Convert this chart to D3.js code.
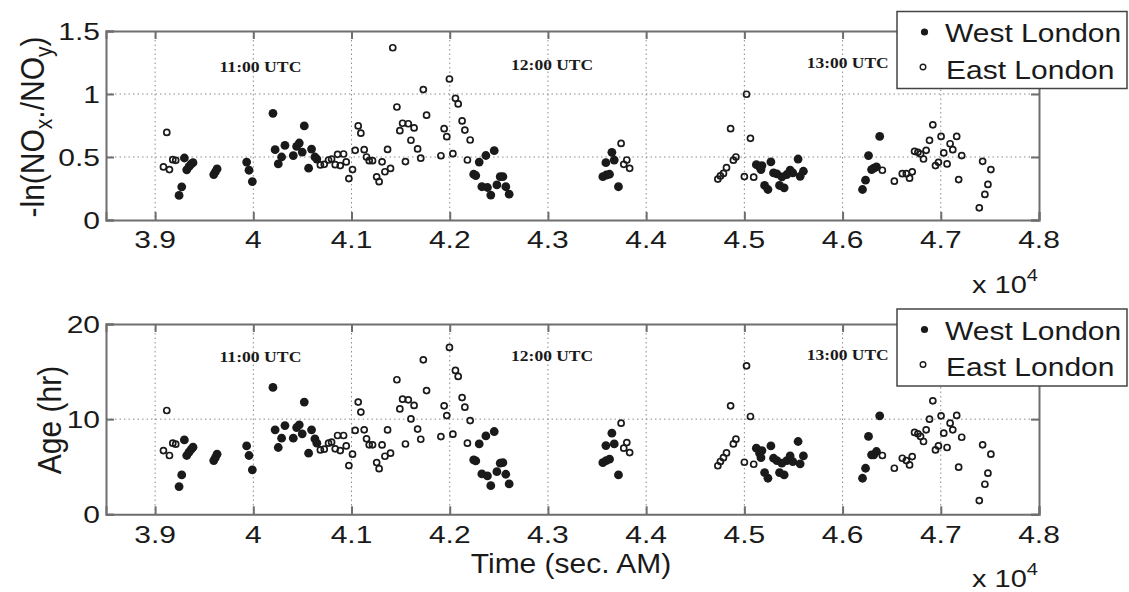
<!DOCTYPE html>
<html><head><meta charset="utf-8">
<script src="https://cdn.jsdelivr.net/npm/d3@7"></script>
<style>html,body{margin:0;padding:0;background:#fff;}</style>
</head><body>
<script>
// ---- data (time in seconds) ----
const westTime = [39244,39271,39298,39322,39345,39366,39386,39597,39614,39631,39932,39956,39990,40200,40222,40254,40288,40322,40407,40441,40468,40498,40519,40563,40593,40627,40647,
  42244,42265,42300,42368,42453,42327,42384,42418,42480,42514,42541,42571,42605,
  43559,43593,43627,43590,43651,43675,43718,
  45122,45155,45179,45169,45270,45206,45240,45297,45331,45358,45405,45382,45432,45466,45493,45547,45568,45601,
  46203,46234,46264,46295,46318,46345,46378];
const westRatio = [0.195,0.263,0.492,0.398,0.423,0.443,0.455,0.361,0.382,0.405,0.46,0.395,0.305,0.847,0.558,0.445,0.5,0.592,0.511,0.584,0.611,0.539,0.747,0.411,0.563,0.5,0.484,
  0.363,0.353,0.46,0.512,0.55,0.264,0.258,0.198,0.278,0.344,0.344,0.264,0.205,
  0.344,0.357,0.363,0.455,0.537,0.476,0.264,
  0.439,0.421,0.432,0.40,0.461,0.274,0.242,0.374,0.366,0.274,0.255,0.342,0.361,0.395,0.374,0.484,0.347,0.387,
  0.242,0.316,0.511,0.40,0.411,0.421,0.663];
const westAge = [2.91,4.14,7.82,6.18,6.53,6.81,7.05,5.65,5.96,6.32,7.19,6.18,4.67,13.33,8.88,7.02,8.0,9.33,8.0,9.12,9.4,8.46,11.79,6.42,8.88,7.93,7.47,
  5.72,5.61,7.4,8.24,8.7,4.24,4.03,3.01,4.48,5.37,5.43,4.21,3.19,
  5.43,5.64,5.79,7.22,8.53,7.4,4.14,
  6.95,6.42,6.7,5.95,7.19,4.39,3.79,5.89,5.65,4.39,4.14,5.37,5.65,6.14,5.54,7.65,5.3,6.14,
  3.79,4.84,8.18,6.25,6.25,6.6,10.35];

const eastTime = [39085,39119,39146,39180,39210,
  40683,40722,40766,40797,40834,40858,40885,40919,40946,
  40973,41010,41037,41068,41095,41129,41153,41180,41214,41256,41281,41311,41340,41367,41397,
  41420,41462,41492,41520,41549,41578,41605,41637,41673,41705,41731,41764,
  41910,41943,41970,41997,42032,42058,42086,42126,42154,42180,42208,
  43745,43772,43803,43832,
  44730,44756,44787,44818,44860,44888,44914,45000,45022,45062,45095,
  46405,46527,46608,46649,46682,46709,46733,46767,46794,46824,46851,46885,46919,46946,46976,47003,47030,47064,47095,47122,47162,47213,47182,47426,47510,47480,47449,47392];
const eastRatio = [0.421,0.695,0.40,0.479,0.474,
  0.437,0.442,0.476,0.484,0.439,0.521,0.432,0.524,0.461,
  0.329,0.40,0.553,0.747,0.689,0.558,0.5,0.471,0.471,0.343,0.304,0.462,0.383,0.56,0.409,
  1.367,0.897,0.709,0.768,0.464,0.764,0.633,0.731,0.564,0.491,1.035,0.832,
  0.51,0.725,0.661,1.119,0.526,0.966,0.921,0.786,0.714,0.476,0.635,
  0.608,0.442,0.476,0.41,
  0.325,0.35,0.37,0.415,0.725,0.475,0.50,0.345,0.998,0.648,0.34,
  0.395,0.308,0.368,0.368,0.332,0.382,0.545,0.537,0.524,0.484,0.553,0.632,0.755,0.432,0.458,0.663,0.532,0.445,0.605,0.558,0.663,0.511,0.321,0.466,0.40,0.282,0.203,0.097];
const eastAge = [6.70,10.91,6.18,7.47,7.37,
  6.77,6.84,7.47,7.58,6.88,8.28,6.70,8.28,7.19,
  5.12,6.32,8.81,11.79,10.74,8.88,7.93,7.30,7.30,5.44,4.80,7.29,6.10,8.87,6.42,
  null,14.14,11.07,12.1,7.39,12.03,10.02,11.44,8.96,7.89,16.24,13.0,
  8.17,11.4,10.38,17.54,8.42,15.12,14.49,12.27,11.26,7.47,9.85,
  9.58,6.95,7.54,6.49,
  5.1,5.55,5.95,6.45,11.4,7.4,7.9,5.47,15.6,10.28,5.26,
  6.18,4.84,5.89,5.65,5.19,6.07,8.6,8.46,8.18,7.65,8.88,10.0,11.93,6.77,7.19,10.35,8.53,7.02,9.58,8.88,10.39,8.1,4.95,7.3,6.32,4.32,3.16,1.44];

const xTicks = [39000,40000,41000,42000,43000,44000,45000,46000,47000,48000];
const xTickLabels = ["3.9","4","4.1","4.2","4.3","4.4","4.5","4.6","4.7","4.8"];
const ratioTicks = [0,0.5,1,1.5];
const ratioTickLabels = ["0","0.5","1","1.5"];
const ageTicks = [0,10,20];
const ageTickLabels = ["0","10","20"];
const utcLabels = ["11:00 UTC","12:00 UTC","13:00 UTC"];
const utcTimes = [39655,42625,45635];
const seriesNames = ["West London","East London"];

// ---- drawing ----
const W = 1129, H = 592;
const svg = d3.select("body").append("svg").attr("width", W).attr("height", H)
  .style("font-family", "Liberation Sans, Arial, sans-serif");
svg.append("rect").attr("width", W).attr("height", H).attr("fill", "#fff");

const FRAME = "#6e6e6e", INK = "#1a1a1a";

function label(g, x, y, str, size, anchor, sy, family, weight) {
  return g.append("text")
    .attr("transform", `translate(${x},${y}) scale(1,${sy})`)
    .attr("text-anchor", anchor)
    .attr("font-size", size)
    .attr("fill", INK)
    .attr("font-family", family || null)
    .attr("font-weight", weight || null)
    .text(str);
}

function panel(opt) {
  const x = d3.scaleLinear().domain([38500, 48000]).range([106, 1039]);
  const y = d3.scaleLinear().domain(opt.ydom).range([opt.bottom, opt.top]);
  const g = svg.append("g");

  // grid
  const gx = xTicks.filter(t => t > 38500 && t < 48000);
  g.selectAll(".gx").data(gx).join("line")
    .attr("x1", d => x(d)).attr("x2", d => x(d)).attr("y1", opt.top).attr("y2", opt.bottom)
    .attr("stroke", "#8a8a8a").attr("stroke-width", 1).attr("stroke-dasharray", "1.5,3");
  const gy = opt.ticks.filter(t => t > opt.ydom[0] && t < opt.ydom[1]);
  g.selectAll(".gy").data(gy).join("line")
    .attr("x1", 106).attr("x2", 1039).attr("y1", d => y(d)).attr("y2", d => y(d))
    .attr("stroke", "#8a8a8a").attr("stroke-width", 1).attr("stroke-dasharray", "1.5,3");

  // axes (ticks inward) via d3 axes
  const axB = g.append("g").attr("transform", `translate(0,${opt.bottom})`)
    .call(d3.axisBottom(x).tickValues(xTicks).tickSize(-8).tickFormat(""));
  const axT = g.append("g").attr("transform", `translate(0,${opt.top})`)
    .call(d3.axisTop(x).tickValues(xTicks).tickSize(-8).tickFormat(""));
  const axL = g.append("g").attr("transform", `translate(106,0)`)
    .call(d3.axisLeft(y).tickValues(opt.ticks).tickSize(-8).tickFormat(""));
  const axR = g.append("g").attr("transform", `translate(1039,0)`)
    .call(d3.axisRight(y).tickValues(opt.ticks).tickSize(-8).tickFormat(""));
  [axB, axT, axL, axR].forEach(a => {
    a.select(".domain").attr("stroke", FRAME).attr("stroke-width", 2);
    a.selectAll(".tick line").attr("stroke", FRAME).attr("stroke-width", 2);
  });

  // tick labels
  xTicks.forEach((t, i) => label(g, x(t), opt.xLabelY, xTickLabels[i], 30, "middle", 0.82));
  opt.ticks.forEach((t, i) => label(g, 100, y(t) + 8.5, opt.tickLabels[i], 30, "end", 0.82));

  // UTC annotations
  utcLabels.forEach((s, i) => {
    label(g, x(utcTimes[i]), opt.utcY[i], s, 17, "start", 0.88, "Liberation Serif, Times New Roman, serif", "bold")
      .attr("textLength", 82).attr("lengthAdjust", "spacingAndGlyphs");
  });

  // points: East (open) and West (filled)
  const east = eastTime.map((t, i) => ({t, v: opt.east[i]})).filter(d => d.v != null);
  const west = westTime.map((t, i) => ({t, v: opt.west[i]})).filter(d => d.v != null);
  g.selectAll(".e").data(east).join("circle")
    .attr("cx", d => x(d.t)).attr("cy", d => y(d.v)).attr("r", 3.0)
    .attr("fill", "none").attr("stroke", INK).attr("stroke-width", 1.7);
  g.selectAll(".w").data(west).join("circle")
    .attr("cx", d => x(d.t)).attr("cy", d => y(d.v)).attr("r", 4.4)
    .attr("fill", INK);

  // x 10^4
  const ex = g.append("text")
    .attr("transform", `translate(972,${opt.expY}) scale(1,0.85)`)
    .attr("font-size", 29).attr("fill", INK);
  ex.append("tspan").text("x 10");
  ex.append("tspan").attr("font-size", 20).attr("dy", -14).text("4");

  // legend
  const lg = g.append("g");
  lg.append("rect").attr("x", 897).attr("y", opt.legTop).attr("width", 230).attr("height", 77)
    .attr("fill", "#fff").attr("stroke", "#444").attr("stroke-width", 1.5);
  lg.append("circle").attr("cx", 924.5).attr("cy", opt.legTop + 20.5).attr("r", 3.6).attr("fill", INK);
  lg.append("circle").attr("cx", 923).attr("cy", opt.legTop + 55.5).attr("r", 2.8)
    .attr("fill", "none").attr("stroke", INK).attr("stroke-width", 1.4);
  label(lg, 945, opt.legTop + 30.5, seriesNames[0], 30, "start", 0.88);
  label(lg, 946, opt.legTop + 67, seriesNames[1], 30, "start", 0.88);
  return {x, y, g};
}

const p1 = panel({ydom: [0, 1.5], top: 31, bottom: 220, ticks: ratioTicks, tickLabels: ratioTickLabels,
  west: westRatio, east: eastRatio, xLabelY: 248, utcY: [71.5, 70, 68], expY: 293, legTop: 11.5});
const p2 = panel({ydom: [0, 20], top: 324, bottom: 514.3, ticks: ageTicks, tickLabels: ageTickLabels,
  west: westAge, east: eastAge, xLabelY: 543, utcY: [361.5, 360.5, 359.5], expY: 587, legTop: 309});

// y labels
const yl1 = svg.append("text")
  .attr("transform", "translate(44,127) rotate(-90) scale(1,1.1)")
  .attr("text-anchor", "middle").attr("font-size", 30).attr("fill", INK);
yl1.append("tspan").text("-ln(NO");
yl1.append("tspan").attr("font-size", 21).attr("dy", 7).text("x");
yl1.append("tspan").attr("dy", -7).text("./NO");
yl1.append("tspan").attr("font-size", 21).attr("dy", 7).text("y");
yl1.append("tspan").attr("dy", -7).text(")");

svg.append("text")
  .attr("transform", "translate(61,420) rotate(-90) scale(1,1.1)")
  .attr("text-anchor", "middle").attr("font-size", 30).attr("fill", INK)
  .text("Age (hr)");

// x label
label(svg, 571, 573, "Time (sec. AM)", 30, "middle", 0.9);
</script>
</body></html>
